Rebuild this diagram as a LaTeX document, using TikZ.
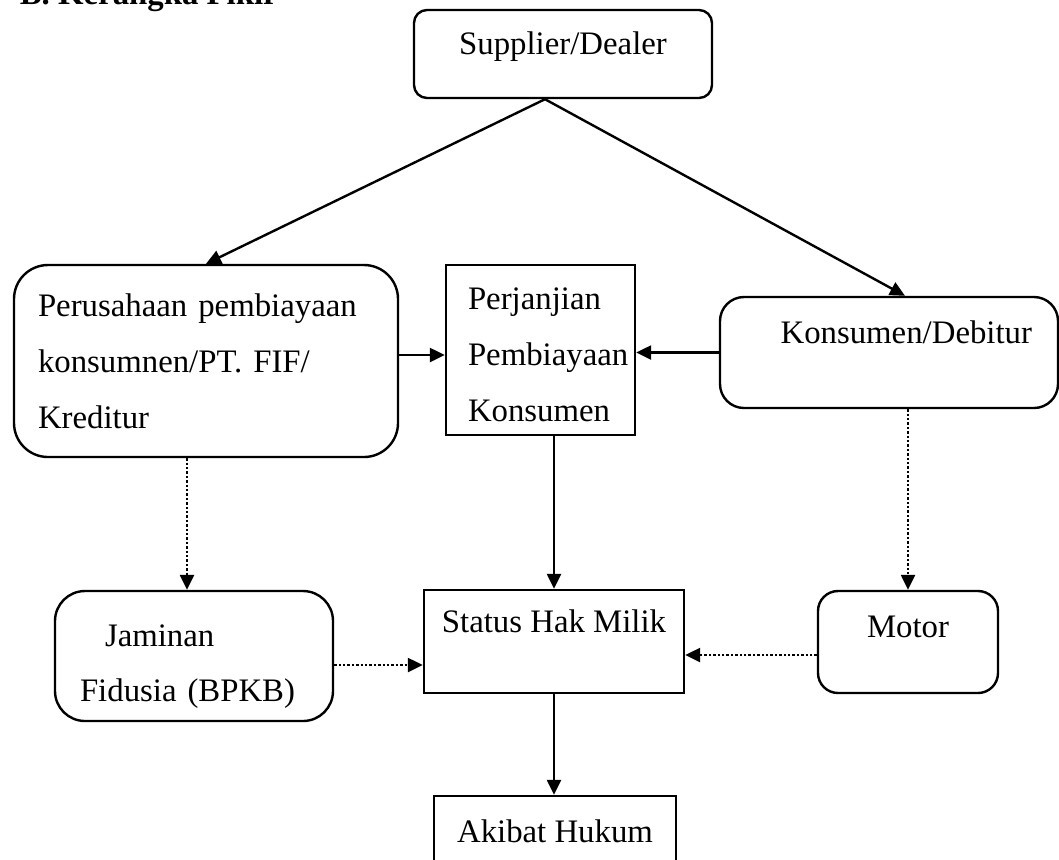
\documentclass[tikz,border=0pt]{standalone}
\usepackage{fontspec}
\setmainfont{Liberation Serif}
\usetikzlibrary{shapes, arrows.meta}

\begin{document}
\begin{tikzpicture}[x=0.5pt, y=-0.5pt, line width=1.2pt,
	every node/.style={font=\fontsize{16.4}{28}\selectfont},
	kotak/.style={rectangle, draw, line width=1.2pt, inner sep=0pt},
	bulat/.style={kotak, rounded corners=#1},
	panah/.style={-{Triangle[length=7.5pt,width=7pt]}},
	titik/.style={panah, dash pattern=on 1.2pt off 1pt}]
		\path[use as bounding box, clip] (0,0) rectangle (1059,859);
		\node at (12,4) [anchor=base west, font=\fontsize{16.4}{28}\selectfont\bfseries] (judul) {B. Kerangka Pikir};
		\node at (563,54) [bulat=6.5pt, minimum width=149pt, minimum height=44pt, text height=8pt, text depth=7.2pt] (supplier) {Supplier/Dealer};
		\node at (206,361) [bulat=17pt, minimum width=192pt, minimum height=96pt, text width=168pt, inner xsep=12pt, align=left] (perusahaan) {Perusahaan pembiayaan\\konsumnen/PT. FIF/\\Kreditur};
		\node at (540.5,350) [kotak, minimum width=94.5pt, minimum height=85pt, text width=72.5pt, inner xsep=11pt, align=left, text height=16pt] (perjanjian) {Perjanjian\\Pembiayaan\\Konsumen};
		\node at (889,352.5) [bulat=12pt, minimum width=169pt, minimum height=55.5pt, text width=143pt, inner xsep=13pt, align=right, text height=8pt, text depth=16.7pt] (konsumen) {Konsumen/Debitur};
		\node at (194,656) [bulat=15pt, minimum width=139pt, minimum height=65pt, text width=114pt, inner xsep=12.5pt, align=left, text height=21pt, font=\fontsize{16.4}{27.5}\selectfont] (jaminan) {\hspace{12.5pt}Jaminan\\Fidusia (BPKB)};
		\node at (554,641.5) [kotak, minimum width=130pt, minimum height=51.5pt, text height=8pt, text depth=16.7pt] (status) {Status Hak Milik};
		\node at (908,642) [bulat=10pt, minimum width=90pt, minimum height=51pt, text height=8pt, text depth=12.2pt] (motor) {Motor};
		\node at (555,836) [kotak, minimum width=121pt, minimum height=40pt, text height=8pt, text depth=1.2pt] (akibat) {Akibat Hukum};
		\draw[panah] ([xshift=-9pt]supplier.south) -- (perusahaan.north);
		\draw[panah] ([xshift=-9pt]supplier.south) -- ([xshift=8pt]konsumen.north);
		\draw[panah] ([yshift=-2.5pt]perjanjian.west -| perusahaan.east) -- ([yshift=-2.5pt]perjanjian.west);
		\draw[panah] (konsumen.west) -- (konsumen.west -| perjanjian.east);
		\draw[titik] ([xshift=-3.5pt]jaminan.north |- perusahaan.south) -- ([xshift=-3.5pt]jaminan.north);
		\draw[panah] (status.north |- perjanjian.south) -- (status.north);
		\draw[titik] (motor.north |- konsumen.south) -- (motor.north);
		\draw[titik] ([yshift=-4.5pt]jaminan.east) -- ([yshift=-4.5pt]jaminan.east -| status.west);
		\draw[titik] ([yshift=-6.5pt]motor.west) -- ([yshift=-6.5pt]motor.west -| status.east);
		\draw[panah] (status.south) -- (status.south |- akibat.north);
\end{tikzpicture}
\end{document}
